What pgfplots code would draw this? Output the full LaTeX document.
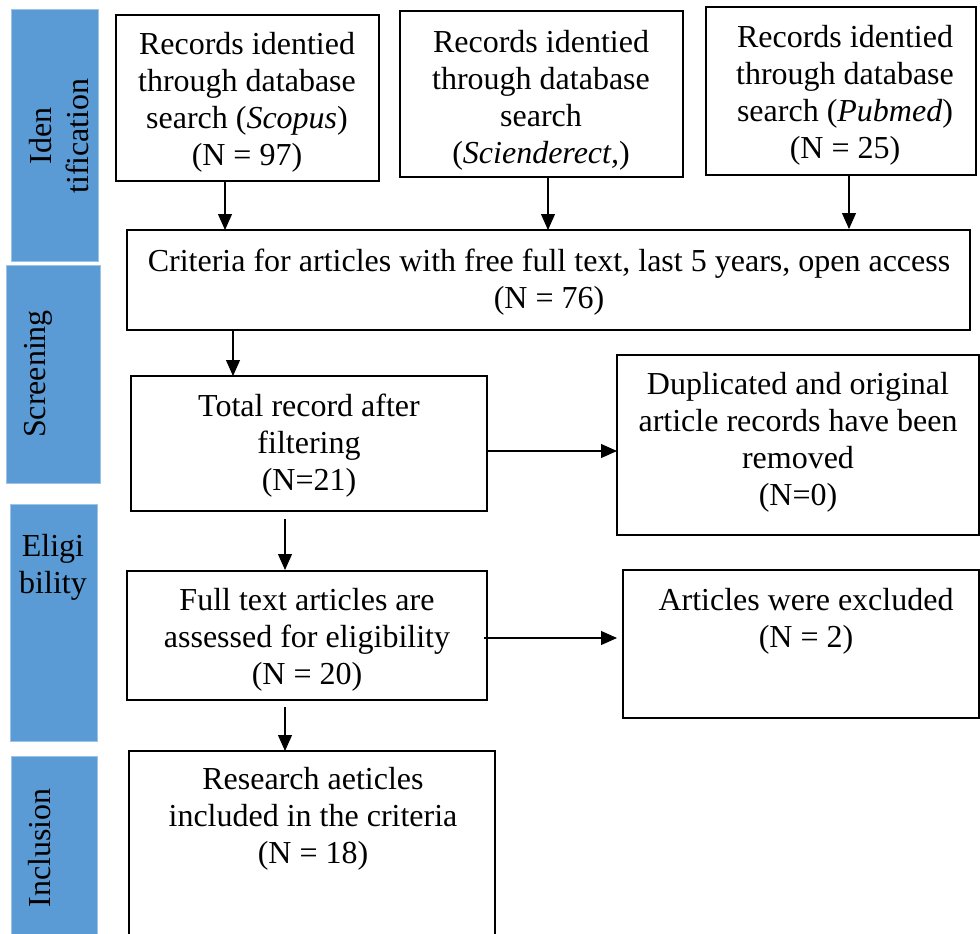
\documentclass[border=0pt]{standalone}
\usepackage{fontspec}
\setmainfont{Liberation Serif}
\usepackage{pgfplots}
\pgfplotsset{compat=1.18}
\usetikzlibrary{arrows.meta}
\definecolor{stageblue}{HTML}{5B9BD5}
\definecolor{stageedge}{HTML}{9DC3E6}

\begin{document}
\begin{tikzpicture}[
    lbl/.style={font={\fontsize{16}{18.5}\selectfont}, align=center, inner sep=0pt},
]
\begin{axis}[
    name=chart,
    scale only axis,
    width=490pt, height=466.5pt,
    xmin=0, xmax=980, ymin=0, ymax=933,
    y dir=reverse,
    hide axis,
    clip=false,
    box/.style={draw=black, line width=1pt, fill=white, mark=none},
    stage/.style={fill=stageblue, draw=stageedge, line width=0.4pt, mark=none},
    flow/.style={draw=black, line width=0.55pt, mark=none, -{Triangle[length=8pt,width=7pt]}},
]
% stage bars on the left
\addplot[stage] coordinates {(11,9) (98,9) (98,261) (11,261)} -- cycle;
\addplot[stage] coordinates {(6,265) (100,265) (100,483) (6,483)} -- cycle;
\addplot[stage] coordinates {(10,504) (97,504) (97,741) (10,741)} -- cycle;
\addplot[stage] coordinates {(11,756) (97,756) (97,940) (11,940)} -- cycle;

\node[lbl, rotate=90] at (axis cs:59,136) {Iden\\tification};
\node[lbl, rotate=90] at (axis cs:38,374) {Screening};
\node[lbl] at (axis cs:53,567) {Eligi\\bility};
\node[lbl, rotate=90] at (axis cs:40,848) {Inclusion};

% boxes
\addplot[box] coordinates {(116,15) (379,15) (379,181) (116,181)} -- cycle;
\addplot[box] coordinates {(400,11) (683,11) (683,177) (400,177)} -- cycle;
\addplot[box] coordinates {(706,7) (976,7) (976,175) (706,175)} -- cycle;
\addplot[box] coordinates {(127,230) (970,230) (970,330) (127,330)} -- cycle;
\addplot[box] coordinates {(131,376) (487,376) (487,511) (131,511)} -- cycle;
\addplot[box] coordinates {(617,355) (979,355) (979,535) (617,535)} -- cycle;
\addplot[box] coordinates {(127,571) (487,571) (487,700) (127,700)} -- cycle;
\addplot[box] coordinates {(623,570) (979,570) (979,718) (623,718)} -- cycle;
\addplot[box] coordinates {(129,751) (495,751) (495,940) (129,940)} -- cycle;

% arrows
\addplot[flow] coordinates {(225,181) (225,230)};
\addplot[flow] coordinates {(548,177) (548,230)};
\addplot[flow] coordinates {(849,175) (849,229)};
\addplot[flow] coordinates {(233,330) (233,376)};
\addplot[flow] coordinates {(487,451) (617,451)};
\addplot[flow] coordinates {(285,519) (285,570)};
\addplot[flow] coordinates {(484,638) (617,638)};
\addplot[flow] coordinates {(285,707) (285,751)};

% box texts
\node[lbl] at (axis cs:247,102) {Records identied\\through database\\search (\textit{Scopus})\\(N = 97)};
\node[lbl] at (axis cs:541,100) {Records identied\\through database\\search\\(\textit{Scienderect,})};
\node[lbl] at (axis cs:845,95) {Records identied\\through database\\search (\textit{Pubmed})\\(N = 25)};
\node[lbl] at (axis cs:549,282) {Criteria for articles with free full text, last 5 years, open access\\(N = 76)};
\node[lbl] at (axis cs:309,446) {Total record after\\filtering\\(N=21)};
\node[lbl] at (axis cs:798,442) {Duplicated and original\\article records have been\\removed\\(N=0)};
\node[lbl] at (axis cs:307,640) {Full text articles are\\assessed for eligibility\\(N = 20)};
\node[lbl] at (axis cs:806,621) {Articles were excluded\\(N = 2)};
\node[lbl] at (axis cs:313,819) {Research aeticles\\included in the criteria\\(N = 18)};
\end{axis}
\pgfresetboundingbox
\useasboundingbox (chart.south west) rectangle (chart.north east);
\end{tikzpicture}
\end{document}
